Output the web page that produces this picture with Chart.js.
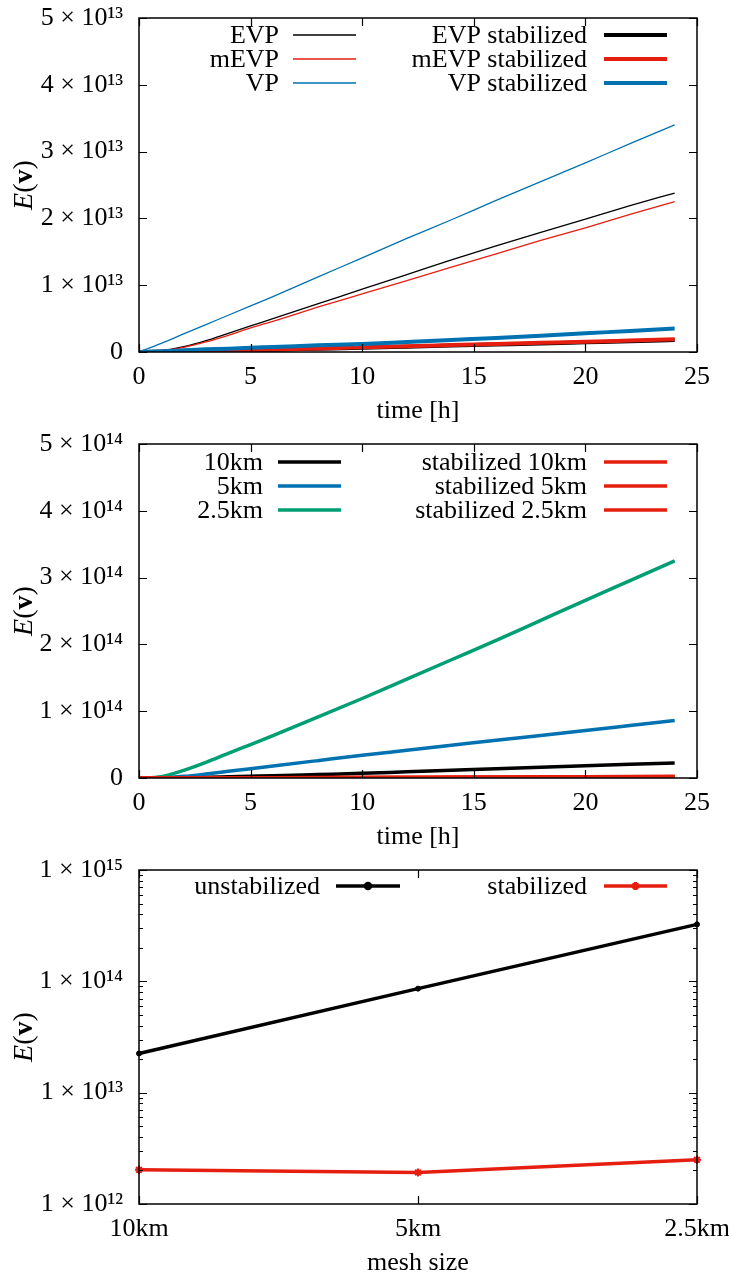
<!DOCTYPE html>
<html>
<head>
<meta charset="utf-8">
<script src="https://cdn.jsdelivr.net/npm/chart.js@4.4.1/dist/chart.umd.min.js"></script>
<style>
  body { margin: 0; background: #fff; }
  canvas { display: block; }
</style>
</head>
<body>
<canvas id="energyScheme" width="729" height="426"></canvas>
<canvas id="energyMesh" width="729" height="426"></canvas>
<canvas id="energyLog" width="729" height="426"></canvas>
<script>
// --- data ---
const hours = [0, 1, 2, 3, 4, 5, 6, 8, 10, 12, 14, 16, 18, 20, 22, 24];

// top panel, values in units of 10^13
const evp      = [0, 0.02, 0.08, 0.17, 0.28, 0.39, 0.50, 0.72, 0.94, 1.16, 1.38, 1.59, 1.79, 1.99, 2.19, 2.38];
const mevp     = [0, 0.015, 0.07, 0.15, 0.25, 0.36, 0.46, 0.67, 0.87, 1.07, 1.27, 1.47, 1.67, 1.86, 2.06, 2.25];
const vp       = [0, 0.13, 0.27, 0.41, 0.55, 0.69, 0.83, 1.12, 1.41, 1.70, 1.98, 2.27, 2.55, 2.83, 3.12, 3.40];
const evpStab  = [0, 0.002, 0.006, 0.012, 0.019, 0.026, 0.034, 0.049, 0.064, 0.08, 0.096, 0.112, 0.128, 0.145, 0.162, 0.18];
const mevpStab = [0, 0.003, 0.008, 0.015, 0.022, 0.03, 0.038, 0.054, 0.07, 0.086, 0.103, 0.12, 0.137, 0.154, 0.172, 0.19];
const vpStab   = [0, 0.01, 0.025, 0.04, 0.05, 0.065, 0.075, 0.1, 0.12, 0.15, 0.18, 0.21, 0.245, 0.28, 0.315, 0.35];

// middle panel, values in units of 10^14
const km10      = [0, 0.001, 0.005, 0.01, 0.018, 0.026, 0.034, 0.052, 0.07, 0.093, 0.115, 0.137, 0.16, 0.182, 0.204, 0.226];
const km5       = [0, 0.004, 0.025, 0.06, 0.1, 0.14, 0.18, 0.26, 0.34, 0.415, 0.49, 0.565, 0.637, 0.71, 0.785, 0.86];
const km2_5     = [0, 0.02, 0.115, 0.235, 0.37, 0.5, 0.635, 0.91, 1.19, 1.48, 1.77, 2.06, 2.36, 2.66, 2.955, 3.25];
const stabKm10  = [0, 0, 0.001, 0.002, 0.002, 0.003, 0.004, 0.005, 0.007, 0.008, 0.01, 0.011, 0.013, 0.015, 0.017, 0.019];
const stabKm5   = [0, 0, 0.001, 0.002, 0.002, 0.003, 0.004, 0.005, 0.006, 0.008, 0.01, 0.011, 0.013, 0.015, 0.017, 0.019];
const stabKm2_5 = [0, 0, 0.001, 0.002, 0.003, 0.004, 0.005, 0.007, 0.009, 0.011, 0.013, 0.015, 0.017, 0.019, 0.022, 0.025];

// bottom panel (log axis)
const meshSizes  = ['10km', '5km', '2.5km'];
const unstabEnd  = [2.25e13, 8.6e13, 3.25e14];
const stabEnd    = [2.03e12, 1.92e12, 2.5e12];

// tick labels
const timeTicks   = [0, 5, 10, 15, 20, 25];
const yLabels13   = ['0', '1 × 10¹³', '2 × 10¹³', '3 × 10¹³', '4 × 10¹³', '5 × 10¹³'];
const yLabels14   = ['0', '1 × 10¹⁴', '2 × 10¹⁴', '3 × 10¹⁴', '4 × 10¹⁴', '5 × 10¹⁴'];
const logTicks    = [1e12, 1e13, 1e14, 1e15];
const logLabels   = ['1 × 10¹²', '1 × 10¹³', '1 × 10¹⁴', '1 × 10¹⁵'];

const BLACK = '#000000', RED = '#e51e10', BLUE = '#0072b2', GREEN = '#009e73';
const SERIF = "'Liberation Serif', 'DejaVu Serif', serif";

Chart.defaults.font.family = SERIF;
Chart.defaults.font.size = 26;
Chart.defaults.color = '#000';

const pts = arr => hours.map((h, i) => ({ x: h, y: arr[i] }));

// gnuplot-like frame with inward ticks on all four sides
const gnuFrame = {
    id: 'gnuFrame',
    afterDatasetsDraw(chart, args, opts) {
        const { ctx, chartArea: a, scales } = chart;
        const xs = scales.x, ys = scales.y;
        ctx.save();
        ctx.strokeStyle = '#000';
        ctx.lineWidth = 1.2;
        ctx.beginPath();
        xs.ticks.forEach((t, i) => {
            const px = Math.round(xs.getPixelForTick(i)) + 0.5;
            ctx.moveTo(px, a.bottom); ctx.lineTo(px, a.bottom - 8);
            ctx.moveTo(px, a.top); ctx.lineTo(px, a.top + 8);
        });
        ys.ticks.forEach((t, i) => {
            const py = Math.round(ys.getPixelForTick(i)) + 0.5;
            ctx.moveTo(a.left, py); ctx.lineTo(a.left + 8, py);
            ctx.moveTo(a.right, py); ctx.lineTo(a.right - 8, py);
        });
        if (opts.minorLog) {
            ys.ticks.forEach(t => {
                for (let k = 2; k <= 9; k++) {
                    const v = t.value * k;
                    if (v >= ys.max) break;
                    const py = Math.round(ys.getPixelForValue(v)) + 0.5;
                    ctx.moveTo(a.left, py); ctx.lineTo(a.left + 4, py);
                    ctx.moveTo(a.right, py); ctx.lineTo(a.right - 4, py);
                }
            });
        }
        ctx.stroke();
        ctx.lineWidth = 1.5;
        ctx.strokeRect(a.left, a.top, a.right - a.left, a.bottom - a.top);
        ctx.restore();
    }
};

// two-column key: label right aligned, then a line sample
const gnuKey = {
    id: 'gnuKey',
    afterDraw(chart, args, opts) {
        const { ctx } = chart;
        ctx.save();
        ctx.font = '26px ' + SERIF;
        ctx.fillStyle = '#000';
        ctx.textAlign = 'right';
        ctx.textBaseline = 'middle';
        chart.data.datasets.forEach((ds, i) => {
            const col = opts.cols[Math.floor(i / opts.rows.length)];
            const y = opts.rows[i % opts.rows.length];
            ctx.fillText(ds.label, col.right, y + 1);
            ctx.strokeStyle = ds.borderColor;
            ctx.lineWidth = ds.borderWidth;
            ctx.beginPath();
            ctx.moveTo(col.x0, y); ctx.lineTo(col.x1, y);
            ctx.stroke();
            if (ds.pointRadius > 0) {
                ctx.fillStyle = ds.borderColor;
                Chart.helpers.drawPoint(ctx, {
                    pointStyle: ds.pointStyle, radius: ds.pointRadius,
                    rotation: 0, borderWidth: 2
                }, (col.x0 + col.x1) / 2, y);
                ctx.fillStyle = '#000';
            }
        });
        ctx.restore();
    }
};

// axis titles: x title plain, y title E(v) with italic E and bold v
const gnuTitles = {
    id: 'gnuTitles',
    afterDraw(chart, args, opts) {
        const { ctx, chartArea: a } = chart;
        ctx.save();
        ctx.fillStyle = '#000';
        ctx.textBaseline = 'middle';
        ctx.textAlign = 'center';
        ctx.font = '26px ' + SERIF;
        ctx.fillText(opts.x, (a.left + a.right) / 2, 411);

        const parts = [['italic 28px ', 'E'], ['28px ', '('], ['bold 28px ', 'v'], ['28px ', ')']];
        let total = 0;
        parts.forEach(p => { ctx.font = p[0] + SERIF; total += ctx.measureText(p[1]).width; });
        ctx.translate(25, (a.top + a.bottom) / 2);
        ctx.rotate(-Math.PI / 2);
        ctx.textAlign = 'left';
        let cx = -total / 2;
        parts.forEach(p => {
            ctx.font = p[0] + SERIF;
            ctx.fillText(p[1], cx, 0);
            cx += ctx.measureText(p[1]).width;
        });
        ctx.restore();
    }
};

const frameLayout = { padding: { top: 18, right: 32, left: 0, bottom: 0 } };
const fitY = s => { s.width = 139; s.paddingTop = 0; s.paddingBottom = 0; };
const fitX = s => { s.height = 74; s.paddingLeft = 0; s.paddingRight = 0; };

function lineSet(label, arr, color, width) {
    return {
        label: label, data: pts(arr), borderColor: color, backgroundColor: color,
        borderWidth: width, pointRadius: 0, cubicInterpolationMode: 'monotone', fill: false
    };
}

function timeOptions(yLabels, key, title) {
    return {
        responsive: false,
        animation: false,
        layout: frameLayout,
        plugins: {
            legend: { display: false },
            tooltip: { enabled: false },
            gnuKey: key,
            gnuTitles: { x: title },
            gnuFrame: {}
        },
        scales: {
            x: {
                type: 'linear', min: 0, max: 25,
                afterBuildTicks: s => { s.ticks = timeTicks.map(v => ({ value: v })); },
                ticks: { padding: 10, maxRotation: 0 },
                grid: { display: false, drawTicks: false },
                border: { display: false },
                afterFit: fitX
            },
            y: {
                min: 0, max: 5,
                ticks: { stepSize: 1, padding: 16, callback: (v, i) => yLabels[i] },
                grid: { display: false, drawTicks: false },
                border: { display: false },
                afterFit: fitY
            }
        }
    };
}

document.addEventListener('DOMContentLoaded', () => {

    // --- 1. energy over time per rheology scheme ---
    const schemeSets = [
        lineSet('EVP', evp, BLACK, 1.3),
        lineSet('mEVP', mevp, RED, 1.3),
        lineSet('VP', vp, BLUE, 1.3),
        lineSet('EVP stabilized', evpStab, BLACK, 4),
        lineSet('mEVP stabilized', mevpStab, RED, 4),
        lineSet('VP stabilized', vpStab, BLUE, 4)
    ];
    schemeSets.forEach((ds, i) => { ds.order = -i; });
    new Chart(document.getElementById('energyScheme'), {
        type: 'line',
        data: { datasets: schemeSets },
        options: timeOptions(yLabels13, {
            rows: [35, 59, 83],
            cols: [{ right: 279, x0: 293, x1: 356 }, { right: 587, x0: 604, x1: 667 }]
        }, 'time [h]'),
        plugins: [gnuFrame, gnuKey, gnuTitles]
    });

    // --- 2. energy over time per mesh size ---
    const meshSets = [
        lineSet('10km', km10, BLACK, 3.5),
        lineSet('5km', km5, BLUE, 3.5),
        lineSet('2.5km', km2_5, GREEN, 3.5),
        lineSet('stabilized 10km', stabKm10, RED, 3.5),
        lineSet('stabilized 5km', stabKm5, RED, 3.5),
        lineSet('stabilized 2.5km', stabKm2_5, RED, 3.5)
    ];
    meshSets.forEach((ds, i) => { ds.order = -i; });
    new Chart(document.getElementById('energyMesh'), {
        type: 'line',
        data: { datasets: meshSets },
        options: timeOptions(yLabels14, {
            rows: [36, 60, 84],
            cols: [{ right: 263, x0: 278, x1: 341 }, { right: 587, x0: 604, x1: 667 }]
        }, 'time [h]'),
        plugins: [gnuFrame, gnuKey, gnuTitles]
    });

    // --- 3. final energy vs mesh size (log) ---
    new Chart(document.getElementById('energyLog'), {
        type: 'line',
        data: {
            labels: meshSizes,
            datasets: [
                {
                    label: 'unstabilized', data: unstabEnd, borderColor: BLACK, backgroundColor: BLACK,
                    borderWidth: 3.5, pointStyle: 'circle', pointRadius: 2.5, pointBorderWidth: 1, order: 0
                },
                {
                    label: 'stabilized', data: stabEnd, borderColor: RED, backgroundColor: RED,
                    borderWidth: 3.5, pointStyle: 'star', pointRadius: 4, pointBorderWidth: 2, order: -1
                }
            ]
        },
        options: {
            responsive: false,
            animation: false,
            layout: frameLayout,
            plugins: {
                legend: { display: false },
                tooltip: { enabled: false },
                gnuKey: { rows: [34], cols: [{ right: 320, x0: 336, x1: 400 }, { right: 587, x0: 604, x1: 667 }] },
                gnuTitles: { x: 'mesh size' },
                gnuFrame: { minorLog: true }
            },
            scales: {
                x: {
                    type: 'category', offset: false,
                    ticks: { padding: 10, maxRotation: 0 },
                    grid: { display: false, drawTicks: false, offset: false },
                    border: { display: false },
                    afterFit: fitX
                },
                y: {
                    type: 'logarithmic', min: 1e12, max: 1e15,
                    afterBuildTicks: s => { s.ticks = logTicks.map(v => ({ value: v })); },
                    ticks: { padding: 16, callback: (v, i) => logLabels[i] },
                    grid: { display: false, drawTicks: false },
                    border: { display: false },
                    afterFit: fitY
                }
            }
        },
        plugins: [gnuFrame, gnuKey, gnuTitles]
    });
});
</script>
</body>
</html>
